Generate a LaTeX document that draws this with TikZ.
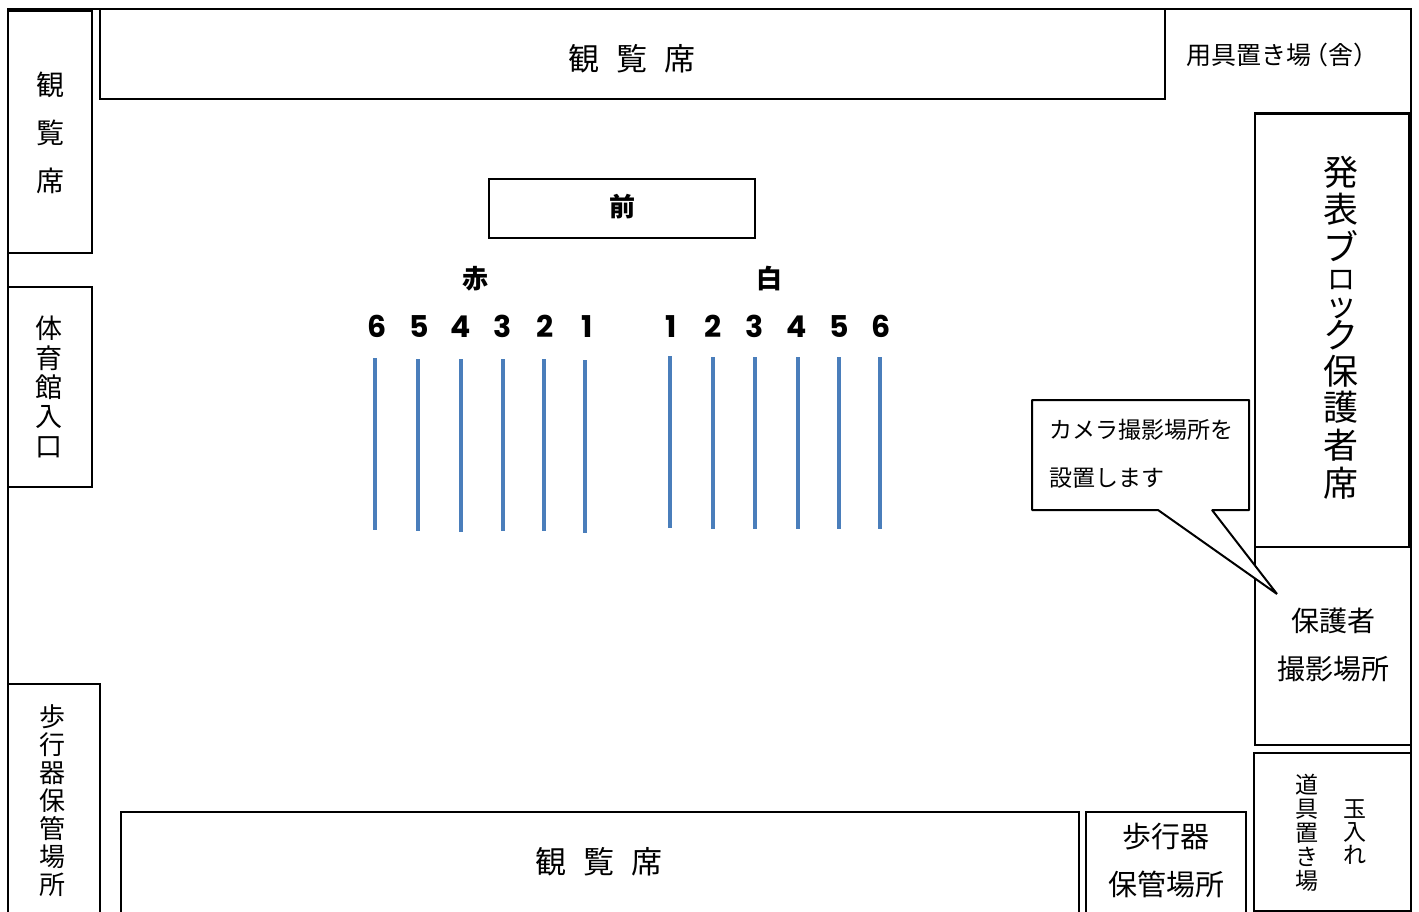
\documentclass[tikz,border=0pt]{standalone}
\usepackage{fontspec}
\setmainfont{Noto Sans CJK JP}
\newfontfamily\numfont{Poppins}
\newcommand{\sz}[2]{\fontsize{#1}{#2}\selectfont\lineskiplimit=-200pt\relax}
\definecolor{lanecol}{HTML}{4A7EBB}
\tikzset{
  room/.style={draw=black,line width=2pt},
  roomb/.style={draw=black,line width=2.6pt},
  lbl/.style={inner sep=0pt,align=center,text=black},
  lane/.style={draw=lanecol,line width=4pt},
  num/.style={lbl,font=\sz{30}{30}\numfont\bfseries},
  head/.style={lbl,font=\sz{26}{26}\bfseries},
}
\begin{document}
\begin{tikzpicture}[x=1pt,y=-1pt]
\useasboundingbox (0,0) rectangle (1419,912);
\fill[white] (0,0) rectangle (1419,912);
% outer frame
\draw[line width=2.4pt] (8,912) -- (8,9) -- (1411,9) -- (1411,912);
% rooms
\draw[room] (8,11) rectangle (92,253);
\draw[room] (100,9) rectangle (1165,99);
\draw[roomb] (8,287) rectangle (92,487);
\draw[room] (8,684) rectangle (100,915);
\draw[room] (121,812) rectangle (1079,915);
\draw[room] (1086,812) rectangle (1246,915);
\draw[room] (1254,753) rectangle (1411,911);
\draw[roomb] (1255,113.5) rectangle (1409,547);
\draw[roomb] (1255,547) rectangle (1411,745);
\draw[room] (488.5,179.5) rectangle (755,238);
% callout
\draw[room,fill=white,line join=bevel] (1032,400) -- (1249,400) -- (1249,510) -- (1212,510) -- (1277,594) -- (1158,510) -- (1032,510) -- cycle;
% lanes
\draw[lane] (375,358) -- (375,530);
\draw[lane] (417.5,359) -- (417.5,531);
\draw[lane] (460.5,359) -- (460.5,532);
\draw[lane] (503,359) -- (503,531);
\draw[lane] (544,359) -- (544,531);
\draw[lane] (585,360) -- (585,533);
\draw[lane] (669.5,356) -- (669.5,528);
\draw[lane] (712.5,357) -- (712.5,529);
\draw[lane] (755,357) -- (755,529);
\draw[lane] (798,357) -- (798,529);
\draw[lane] (839,357) -- (839,529);
\draw[lane] (880,357) -- (880,529);
% labels
\node[lbl,font=\sz{28}{48}] (seatL) at (50,133) {観\\覧\\席};
\node[lbl,font=\sz{31}{31}] (seatT) at (632,58.5) {観\hspace{17pt}覧\hspace{17pt}席};
\node[lbl,font=\sz{31}{31}] (seatB) at (599,861.5) {観\hspace{17pt}覧\hspace{17pt}席};
\node[lbl,font=\sz{25}{25},anchor=west] (tools) at (1186,55) {用具置き場\kern-8pt（舎）};
\node[lbl,font=\sz{27}{29.3}] (entry) at (49,387) {体\\育\\館\\入\\口};
\node[lbl,font=\sz{26}{28}] (walkL) at (52,801) {歩\\行\\器\\保\\管\\場\\所};
\node[lbl,font=\sz{35}{30}] (block) at (1341,328) {発\\[7.5pt]表\\[8pt]ブ\\[-1.5pt]{\sz{28}{30}ロ}\\[-2.5pt]{\sz{32}{30}ッ}\\[2pt]ク\\[6pt]保\\[5.5pt]護\\[8pt]者\\[8.5pt]席};
\node[lbl,font=\sz{28}{48}] (photo) at (1333.5,645) {保護者\\撮影場所};
\node[lbl,font=\sz{29}{48}] (walkB) at (1166,861) {歩行器\\保管場所};
\node[lbl,font=\sz{23}{24}] (goods) at (1307,833) {道\\具\\置\\き\\場};
\node[lbl,font=\sz{23}{23}] (balls) at (1355,832) {玉\\入\\れ};
\node[lbl,font=\sz{23}{48},anchor=west,align=left] (cam) at (1049,454) {カメラ撮影場所を\\設置します};
\node[head] (front) at (622,207) {前};
\node[head] (red) at (475,279) {赤};
\node[head] (white) at (769,279) {白};
\node[num] (r6) at (377,326.5) {6};
\node[num] (r5) at (419,326.5) {5};
\node[num] (r4) at (461,326.5) {4};
\node[num] (r3) at (503,326.5) {3};
\node[num] (r2) at (545,326.5) {2};
\node[num] (r1) at (587,326.5) {1};
\node[num] (w1) at (671,326.5) {1};
\node[num] (w2) at (713,326.5) {2};
\node[num] (w3) at (755,326.5) {3};
\node[num] (w4) at (797,326.5) {4};
\node[num] (w5) at (839,326.5) {5};
\node[num] (w6) at (881,326.5) {6};
\end{tikzpicture}
\end{document}
